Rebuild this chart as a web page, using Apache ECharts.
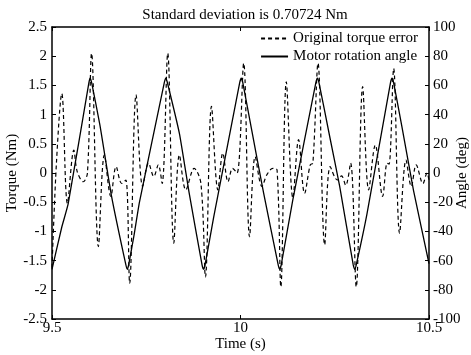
<!DOCTYPE html>
<html><head><meta charset="utf-8">
<script src="https://cdn.jsdelivr.net/npm/echarts@6/dist/echarts.min.js"></script>
<style>html,body{margin:0;padding:0;background:#fff}#c{width:471px;height:355px}</style>
</head><body><div id="c"></div>
<script>
var chartTitle = 'Standard deviation is 0.70724 Nm';
var seriesNames = ['Original torque error', 'Motor rotation angle'];
var torqueTime = [9.500,9.512,9.526,9.541,9.558,9.567,9.583,9.594,9.605,9.623,9.639,9.656,9.670,9.685,9.696,9.706,
  9.723,9.7405,9.756,9.770,9.782,9.792,9.807,9.823,9.838,9.855,9.877,9.895,9.907,
  9.923,9.940,9.953,9.967,9.979,9.991,10.0085,10.024,10.039,10.057,10.070,10.086,10.097,10.107,
  10.1215,10.139,10.154,10.170,10.185,10.192,10.2056,10.2233,10.238,10.257,10.268,10.279,10.292,10.307,
  10.324,10.340,10.3576,10.377,10.389,10.394,10.4063,10.422,10.439,10.453,10.466,10.484,10.4947,10.500];
var torqueValue = [-1.62,0.2,1.36,-0.52,0.39,0.02,-0.15,0.00,2.05,-1.26,0.31,-0.40,0.11,-0.18,-0.12,-1.89,
  1.34,-0.23,0.17,-0.06,0.14,-0.18,2.05,-1.20,0.31,-0.29,0.08,-0.18,-1.78,
  1.14,-0.29,0.34,-0.15,0.08,0.00,1.88,-1.09,0.28,-0.23,-0.03,0.08,0.05,-1.95,
  1.56,-0.43,0.57,-0.35,0.14,0.17,1.88,-1.23,0.11,-0.12,-0.05,-0.21,0.17,-1.95,
  1.48,-0.29,0.48,-0.40,0.17,0.15,1.79,-1.03,0.22,-0.23,0.14,-0.18,0.00,-0.12];
var angleTime = [9.500,9.526,9.543,9.598,9.601,9.605,9.627,9.658,9.696,9.700,9.704,9.718,9.732,9.798,9.802,9.806,
  9.838,9.864,9.898,9.902,9.906,9.929,9.938,9.998,10.002,10.006,10.030,10.0615,10.100,10.104,10.108,
  10.139,10.200,10.204,10.208,10.2366,10.263,10.299,10.303,10.307,10.3355,10.398,10.402,10.406,10.428,10.459,10.500];
var angleValue = [-66,-37,-21,62,65,62,33,-16,-63,-66,-62,-42,-20,62,65,62,
  27,-14,-63,-66,-63,-30,-18,62,65,62,29,-14,-63,-66,-63,
  -18,62,65,62,25,-9,-63,-66,-63,-28,62,65,62,32,-12,-62];
var xTicks = {min: 9.5, max: 10.5, step: 0.5};
var leftTicks = {min: -2.5, max: 2.5, step: 0.5};
var rightTicks = {min: -100, max: 100, step: 20};

function zip(a, b) { return a.map(function (v, i) { return [v, b[i]]; }); }
var FONT = 'Liberation Serif';
var axisBase = {
  axisLine: {show: true, onZero: false, lineStyle: {color: '#000', width: 1.5}},
  axisTick: {show: true, inside: true, length: 4, lineStyle: {color: '#000', width: 1}},
  splitLine: {show: false},
  nameMoveOverlap: false,
  axisLabel: {color: '#000', fontFamily: FONT, fontSize: 15},
  nameTextStyle: {color: '#000', fontFamily: FONT, fontSize: 15}
};
function ax(extra) { return Object.assign({}, JSON.parse(JSON.stringify(axisBase)), extra); }

var chart = echarts.init(document.getElementById('c'), null, {renderer: 'canvas'});
chart.setOption({
  animation: false,
  backgroundColor: '#fff',
  title: {text: chartTitle, left: 240, textAlign: 'center', top: 3,
    textStyle: {fontFamily: FONT, fontSize: 15, fontWeight: 'normal', color: '#000'}},
  grid: {left: 52, right: 42, top: 27, bottom: 36, containLabel: false, outerBoundsMode: 'none'},
  legend: {orient: 'vertical', right: 53, top: 31, padding: 0, itemGap: 3, itemWidth: 27, itemHeight: 10,
    itemStyle: {color: 'rgba(0,0,0,0)', borderColor: 'rgba(0,0,0,0)', borderWidth: 0},
    textStyle: {fontFamily: FONT, fontSize: 15, color: '#000'}, data: seriesNames},
  xAxis: [
    ax({type: 'value', min: xTicks.min, max: xTicks.max, interval: xTicks.step, position: 'bottom',
      name: 'Time (s)', nameLocation: 'middle', nameGap: 18,
      axisLabel: {color: '#000', fontFamily: FONT, fontSize: 15, margin: 2}}),
    ax({type: 'value', min: xTicks.min, max: xTicks.max, interval: xTicks.step, position: 'top',
      axisLabel: {show: false}})
  ],
  yAxis: [
    ax({type: 'value', min: leftTicks.min, max: leftTicks.max, interval: leftTicks.step, position: 'left',
      name: 'Torque (Nm)', nameLocation: 'middle', nameGap: 32, nameRotate: 90,
      axisLabel: {color: '#000', fontFamily: FONT, fontSize: 15, margin: 5}}),
    ax({type: 'value', min: rightTicks.min, max: rightTicks.max, interval: rightTicks.step, position: 'right',
      name: 'Angle (deg)', nameLocation: 'middle', nameGap: 26, nameRotate: 90,
      axisLabel: {color: '#000', fontFamily: FONT, fontSize: 15, margin: 4}})
  ],
  series: [
    {name: seriesNames[0], type: 'line', yAxisIndex: 0, symbol: 'none', smooth: 0.35,
      data: zip(torqueTime, torqueValue),
      lineStyle: {color: '#000', width: 1.2, type: [4, 3]}, itemStyle: {color: '#000'}},
    {name: seriesNames[1], type: 'line', yAxisIndex: 1, symbol: 'none', smooth: 0.15,
      data: zip(angleTime, angleValue),
      lineStyle: {color: '#000', width: 1.3, type: 'solid'}, itemStyle: {color: '#000'}}
  ]
});
</script></body></html>
